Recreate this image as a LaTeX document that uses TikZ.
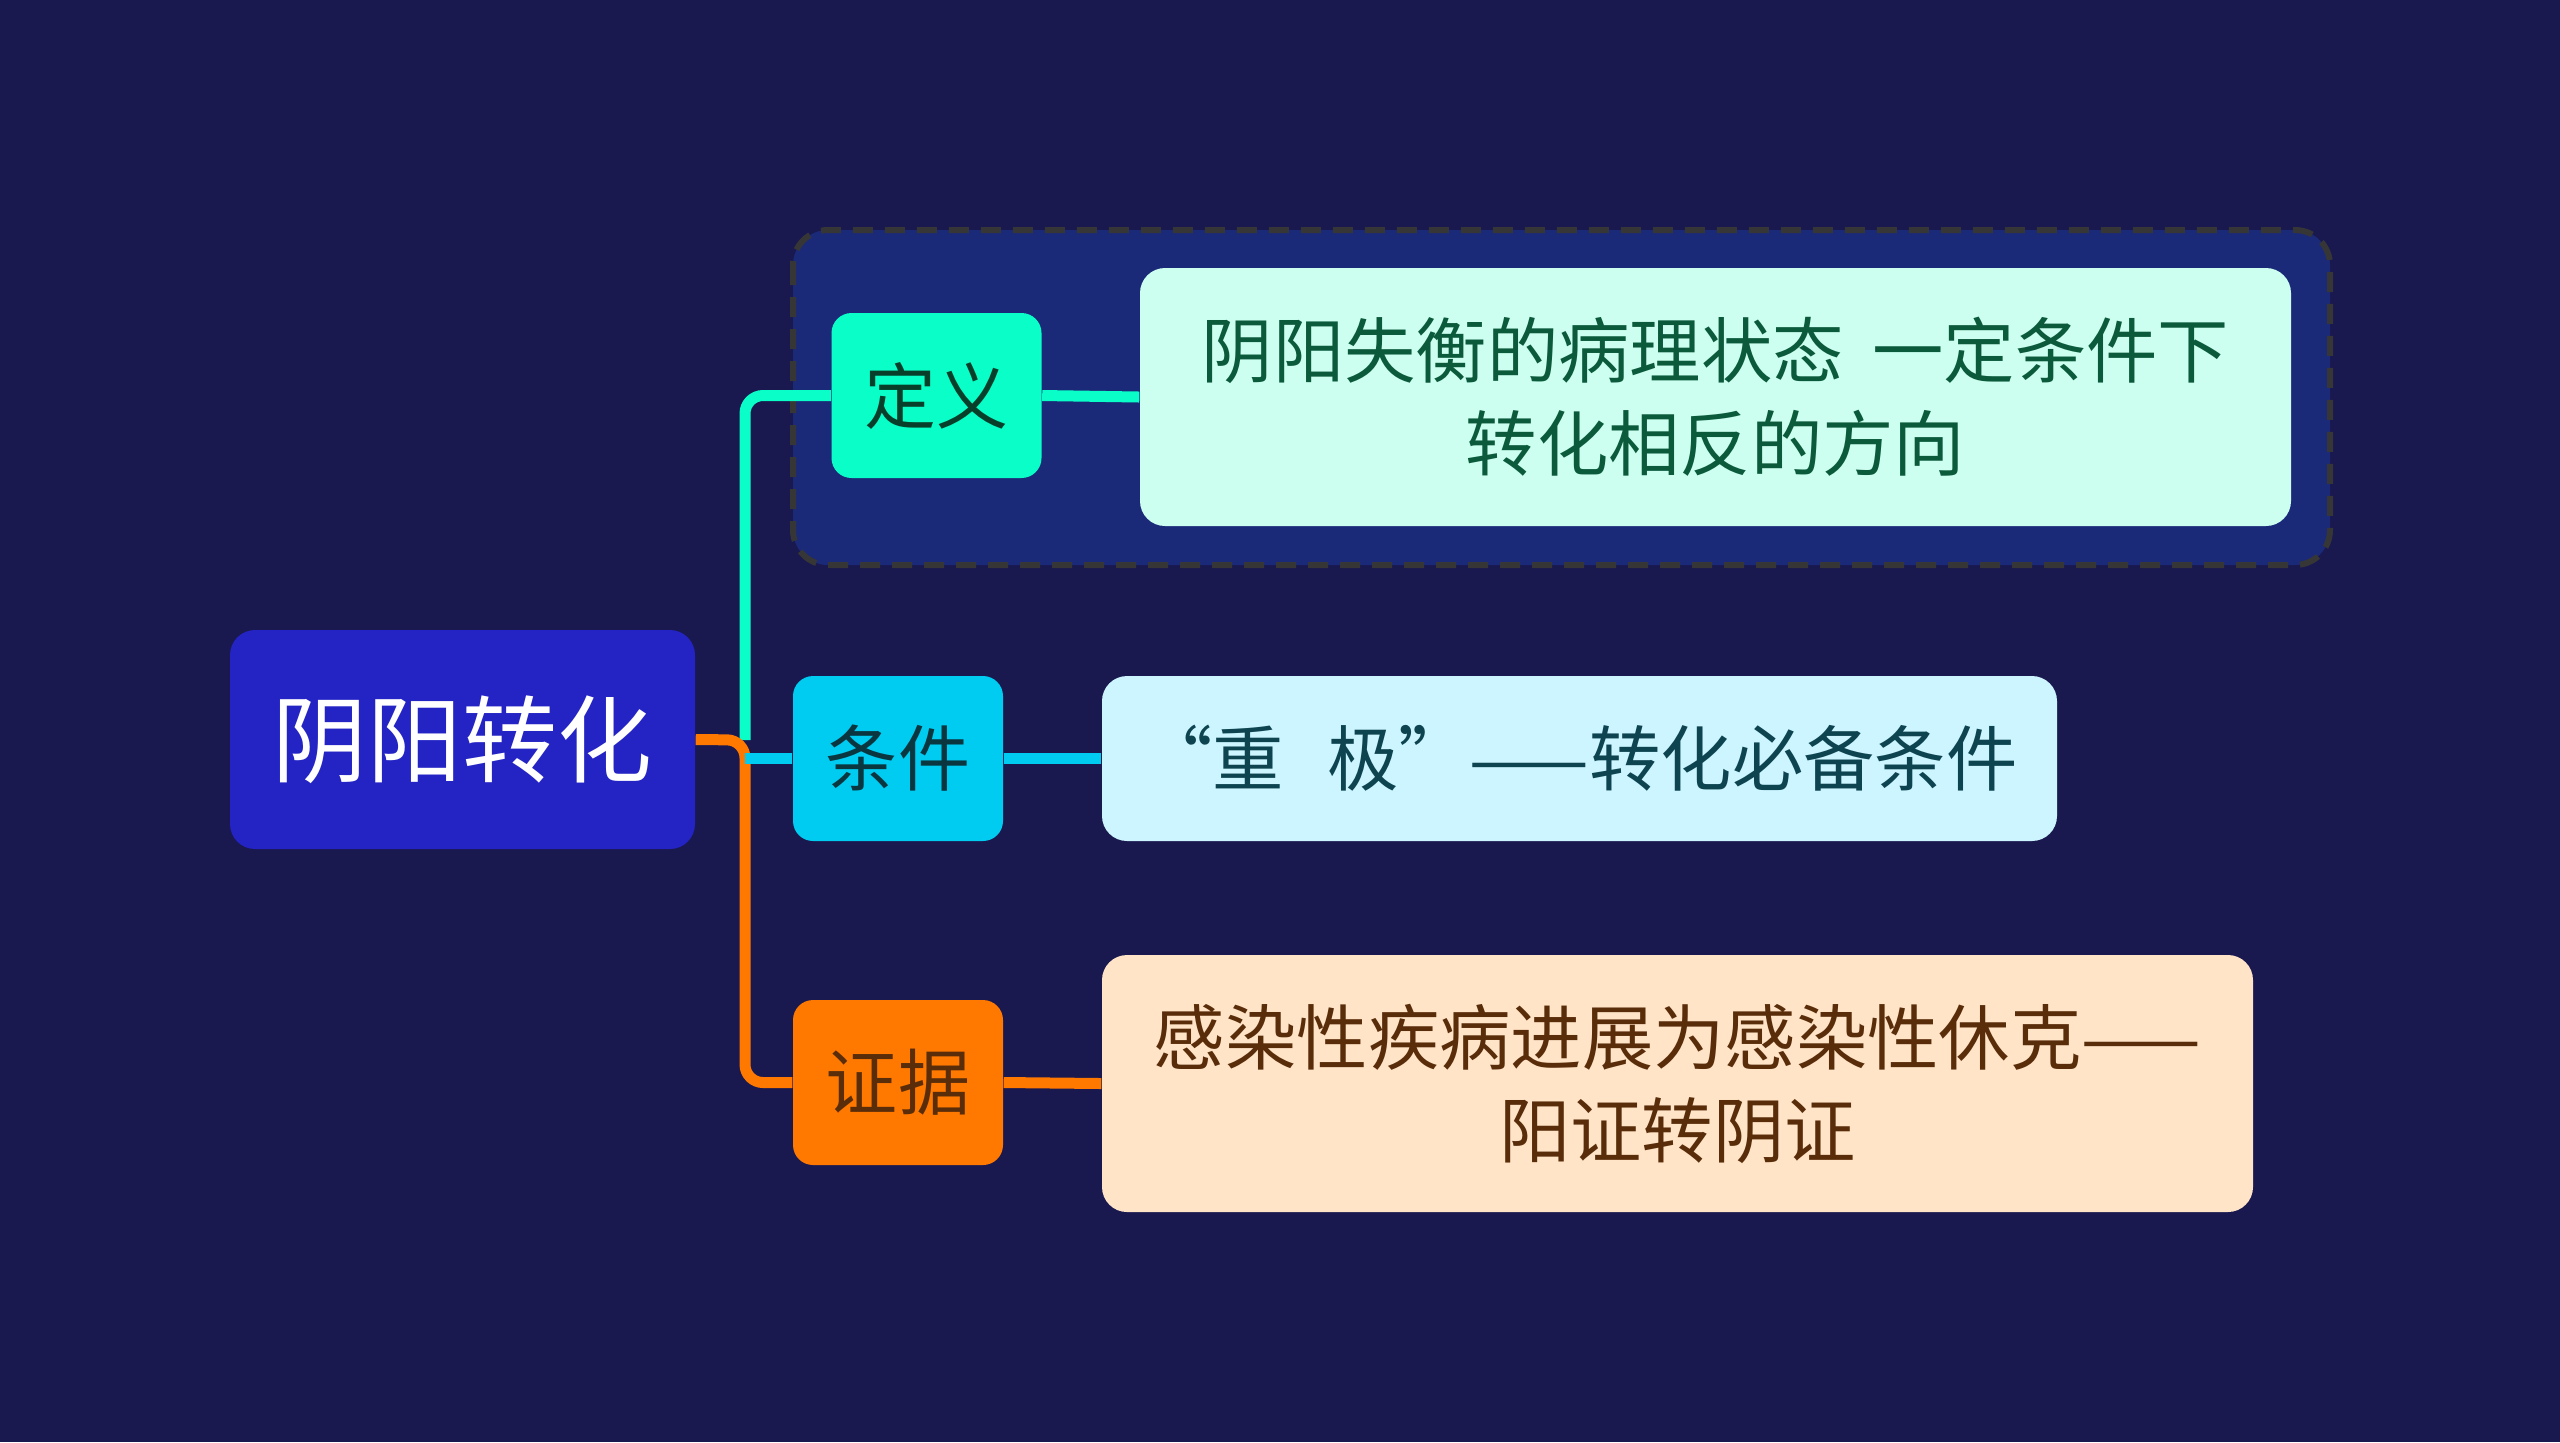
\documentclass[tikz,border=0pt]{standalone}
\usepackage{fontspec}
\setmainfont{Noto Sans CJK SC}
\usepackage{xcolor}
\usepackage{tikz}
\usetikzlibrary{positioning,calc}
\definecolor{bgnavy}{HTML}{19184F}
\definecolor{rootblue}{HTML}{2424C4}
\definecolor{grpfill}{HTML}{1B2A78}
\definecolor{grpedge}{HTML}{363636}
\definecolor{defteal}{HTML}{0AFFC8}
\definecolor{deflight}{HTML}{CCFFF0}
\definecolor{defdark}{HTML}{0B5A3C}
\definecolor{condcyan}{HTML}{00CCF2}
\definecolor{condlight}{HTML}{CCF5FF}
\definecolor{conddark}{HTML}{0D4450}
\definecolor{evidorange}{HTML}{FF7800}
\definecolor{evidlight}{HTML}{FFE4C8}
\definecolor{eviddark}{HTML}{5A2D0A}

\begin{document}
\begin{tikzpicture}[
    tag/.style={rounded corners=0.2cm, minimum width=2.1cm, minimum height=1.65cm,
      inner sep=0pt, font=\fontsize{20.5}{26.5}\selectfont},
    leaf/.style={rounded corners=0.25cm, inner sep=0pt, align=center,
      font=\fontsize{20.3}{26.5}\selectfont},
    link/.style={line width=0.11cm, rounded corners=0.18cm}]
  \useasboundingbox (0,0) rectangle (25.6,-14.42);
  \fill[bgnavy] (0,0) rectangle (25.6,-14.42);
  % dashed group round the definition branch
  \draw[grpedge, fill=grpfill, line width=0.06cm, dash pattern=on 0.2cm off 0.12cm,
    rounded corners=0.35cm] (7.93,-2.30) rectangle (23.30,-5.65);
  \node[fill=rootblue, text=white, rounded corners=0.25cm, minimum width=4.65cm,
    minimum height=2.19cm, font=\fontsize{27}{30}\selectfont] (root) at (4.625,-7.395) {阴阳转化};
  \node[tag, fill=defteal, text=defdark!70!black] (def) at (9.365,-3.955) {定义};
  \node[tag, fill=condcyan, text=conddark!80!black] (cond) at (8.98,-7.585) {条件};
  \node[tag, fill=evidorange, text=eviddark] (evid) at (8.98,-10.825) {证据};
  \node[leaf, fill=deflight, text=defdark, minimum width=11.51cm, minimum height=2.58cm]
    (deftxt) at (17.155,-3.97) {阴阳失衡的病理状态\hspace{0.4em}一定条件下\\转化相反的方向};
  \node[leaf, fill=condlight, text=conddark, minimum width=9.55cm, minimum height=1.65cm]
    (condtxt) at (15.795,-7.585) {“重\hspace{0.6em}极”——转化必备条件};
  \node[leaf, fill=evidlight, text=eviddark, minimum width=11.51cm, minimum height=2.57cm]
    (evidtxt) at (16.775,-10.835) {感染性疾病进展为感染性休克——\\阳证转阴证};
  \coordinate (trunk) at (7.45,-7.40);
  \draw[link, defteal] (trunk) |- (def.west);
  \draw[link, evidorange] (root.east) -- (trunk) |- (evid.west);
  \draw[link, condcyan] (trunk |- cond.west) -- (cond.west);
  \draw[link, defteal] (def.east) -- (deftxt.west);
  \draw[link, condcyan] (cond.east) -- (condtxt.west);
  \draw[link, evidorange] (evid.east) -- (evidtxt.west);
\end{tikzpicture}
\end{document}
